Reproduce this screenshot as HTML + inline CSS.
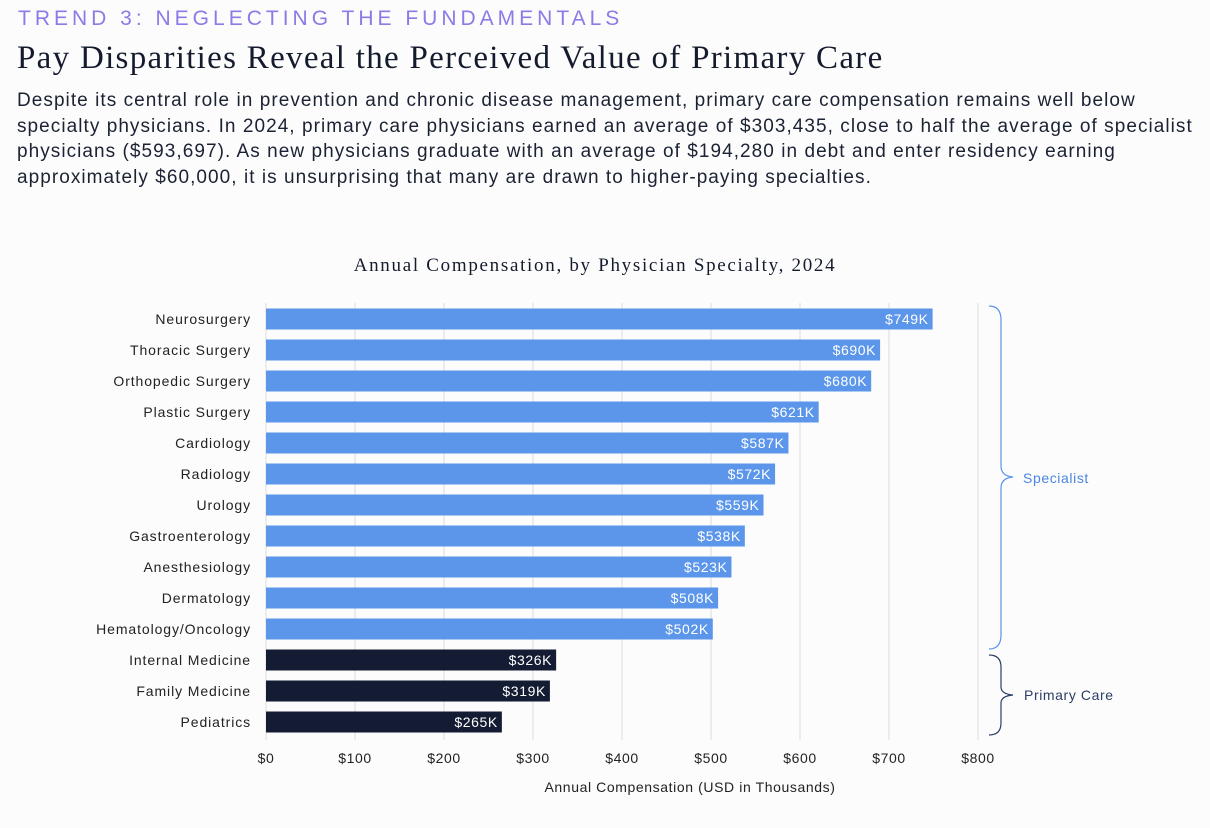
<!DOCTYPE html>
<html><head><meta charset="utf-8">
<style>
body{margin:0;width:1210px;height:828px;background:#fcfcfc;font-family:"Liberation Sans",sans-serif;overflow:hidden;position:relative}
.kicker{position:absolute;left:18px;top:7px;font-size:21px;letter-spacing:4px;color:#8a7be6}
.title{position:absolute;left:17px;top:40px;font-family:"Liberation Serif",serif;font-size:33px;letter-spacing:1.3px;color:#141b2d;white-space:nowrap}
.desc{position:absolute;left:17px;top:88px;width:1180px;font-size:19px;line-height:25.5px;letter-spacing:1.05px;color:#1b2233}
svg{position:absolute;left:0;top:0}
svg text{letter-spacing:0.6px}
</style></head><body>
<div class="kicker">TREND 3: NEGLECTING THE FUNDAMENTALS</div>
<div class="title">Pay Disparities Reveal the Perceived Value of Primary Care</div>
<div class="desc">Despite its central role in prevention and chronic disease management, primary care compensation remains well below<br>specialty physicians. In 2024, primary care physicians earned an average of $303,435, close to half the average of specialist<br>physicians ($593,697). As new physicians graduate with an average of $194,280 in debt and enter residency earning<br>approximately $60,000, it is unsurprising that many are drawn to higher-paying specialties.</div>
<svg id="chart" width="1210" height="828">
<text x="595" y="271" text-anchor="middle" font-family="Liberation Serif,serif" font-size="19" fill="#141b2d" style="letter-spacing:1.7px">Annual Compensation, by Physician Specialty, 2024</text>
<text x="690" y="792" text-anchor="middle" font-size="14" fill="#222">Annual Compensation (USD in Thousands)</text>
<path d="M989,306 Q1001,306 1001,320 L1001,466 Q1001,476 1013,477 Q1001,478 1001,488 L1001,635 Q1001,649 989,649" fill="none" stroke="#5b96ea" stroke-width="1.2"/>
<text x="1023" y="483" font-size="14" fill="#4a86e0">Specialist</text>
<path d="M989,655 Q1001,655 1001,667 L1001,687 Q1001,694 1013,695 Q1001,696 1001,703 L1001,723 Q1001,735 989,735" fill="none" stroke="#2c3e66" stroke-width="1.2"/>
<text x="1024" y="700" font-size="14" fill="#2c3e66">Primary Care</text>
</svg>
<script>
const categories=["Neurosurgery","Thoracic Surgery","Orthopedic Surgery","Plastic Surgery","Cardiology","Radiology","Urology","Gastroenterology","Anesthesiology","Dermatology","Hematology/Oncology","Internal Medicine","Family Medicine","Pediatrics"];
const values=[749,690,680,621,587,572,559,538,523,508,502,326,319,265];
const groups=["s","s","s","s","s","s","s","s","s","s","s","p","p","p"];
const ticks=[0,100,200,300,400,500,600,700,800];
const svg=document.getElementById('chart');
const NS="http://www.w3.org/2000/svg";
const x0=266,x1=978,xmax=800;
const xs=v=>x0+(v/xmax)*(x1-x0);
const ys=i=>319+i*31;
function mk(t,a){const e=document.createElementNS(NS,t);for(const k in a)e.setAttribute(k,a[k]);svg.insertBefore(e,svg.firstChild.nextSibling);return e;}
ticks.forEach(t=>{
 const l=mk('line',{x1:xs(t),x2:xs(t),y1:303,y2:740,stroke:'#dcdcdc','stroke-width':1});
 
 
 const tx=mk('text',{x:xs(t),y:763,'text-anchor':'middle','font-size':14,fill:'#222'});
 tx.textContent='$'+t;
 
 
});
categories.forEach((c,i)=>{
 const y=ys(i);
 const r=mk('rect',{x:x0,y:y-10.5,width:xs(values[i])-x0,height:21,fill:groups[i]==='s'?'#5b96ea':'#131c33'});
 
 
 svg.appendChild(r);
 const v=document.createElementNS(NS,'text');
 v.setAttribute('x',xs(values[i])-4);v.setAttribute('y',y+5);v.setAttribute('text-anchor','end');v.setAttribute('font-size',14);v.setAttribute('fill','#fff');
 v.textContent='$'+values[i]+'K';
 
 
 svg.appendChild(v);
 const l=document.createElementNS(NS,'text');
 l.setAttribute('x',251);l.setAttribute('y',y+5);l.setAttribute('text-anchor','end');l.setAttribute('font-size',14);l.setAttribute('fill','#222');
 l.setAttribute('style','letter-spacing:0.9px');
 l.textContent=c;
 
 
 svg.appendChild(l);
});
</script>
</body></html>
